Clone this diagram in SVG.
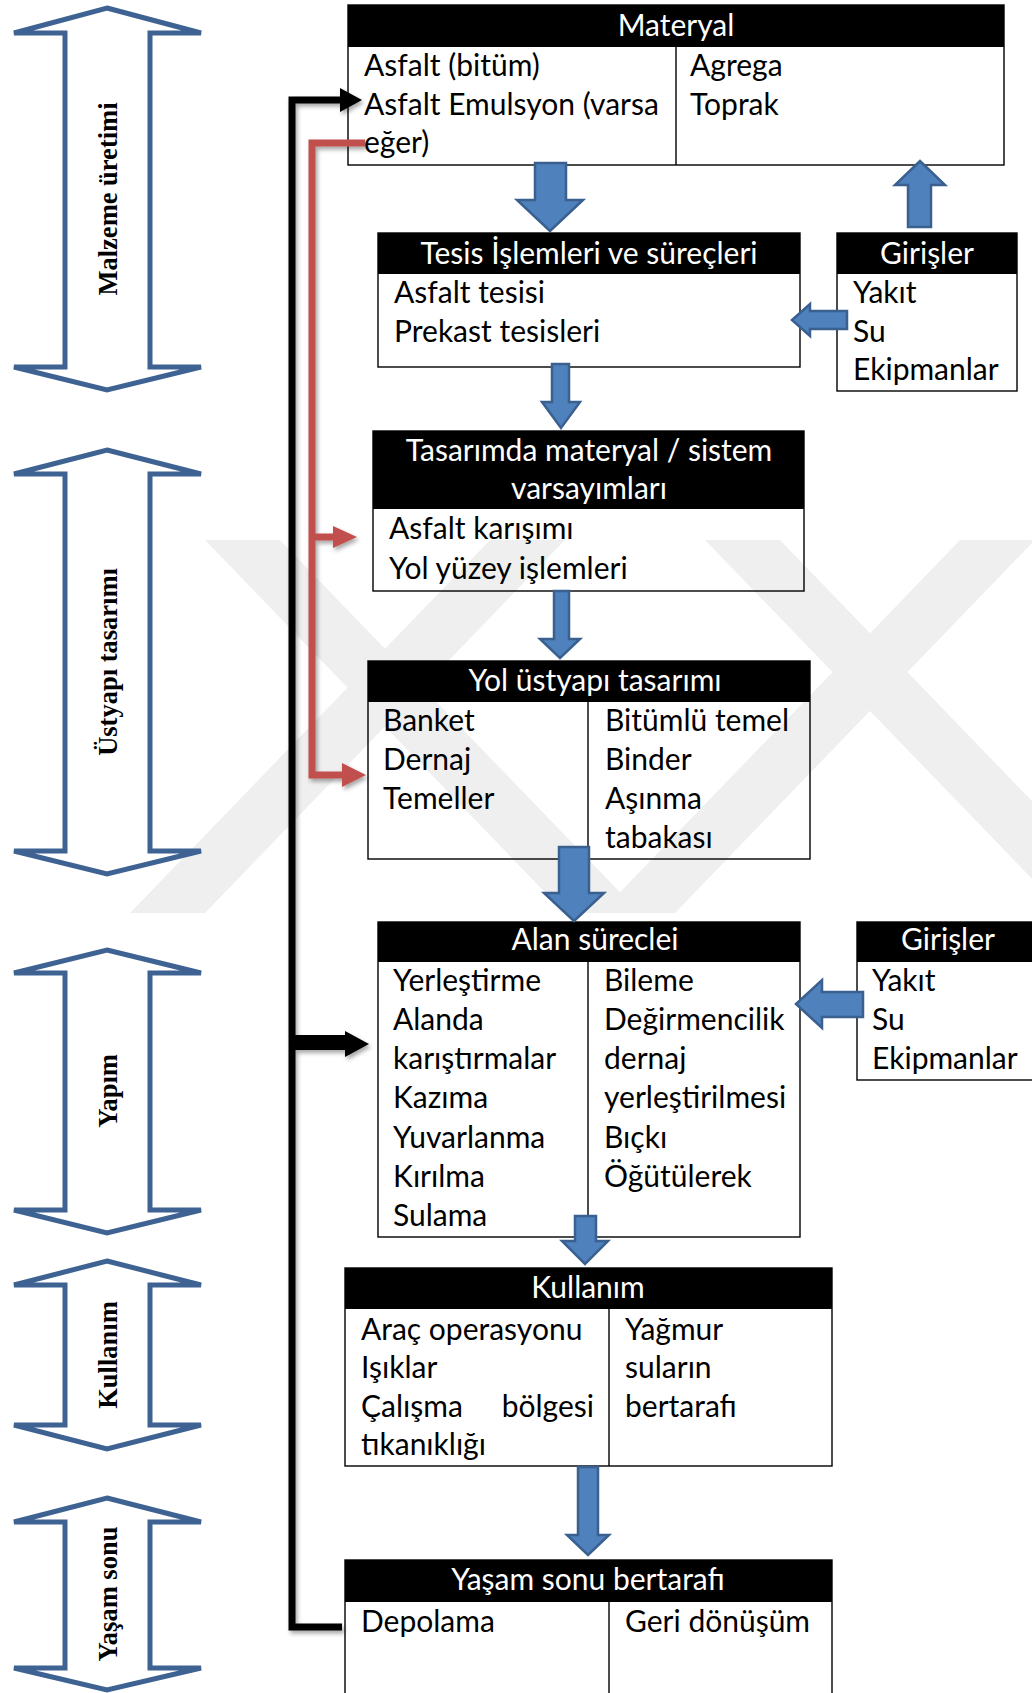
<svg xmlns="http://www.w3.org/2000/svg" width="1032" height="1693" viewBox="0 0 1032 1693">
<defs>
<style>
.box{fill:none;stroke:#000;stroke-width:1.4}
.hdr{fill:#000}
.ht{font-family:Lato,"Liberation Sans",sans-serif;font-size:30px;fill:#fff;text-anchor:middle}
.t{font-family:Lato,"Liberation Sans",sans-serif;font-size:30px;fill:#000}
.side{fill:#fff;stroke:#3e6393;stroke-width:5;stroke-linejoin:miter}
.st{font-family:"Liberation Serif","Times New Roman",serif;font-weight:bold;font-size:26.5px;fill:#000;text-anchor:middle}
.blk{fill:#4f81bd;stroke:#3a6090;stroke-width:2.5;stroke-linejoin:miter}
.wm{fill:#efefef}
</style>
<filter id="sh" x="-20%" y="-20%" width="140%" height="140%">
<feDropShadow dx="2" dy="3" stdDeviation="2" flood-color="#000" flood-opacity="0.35"/>
</filter>
</defs>
<rect width="1032" height="1693" fill="#fff"/>
<g id="watermark">
<polygon class="wm" points="205,540 280,540 640,913 565,913"/>
<polygon class="wm" points="130,913 205,913 565,540 490,540"/>
<polygon class="wm" points="705,540 780,540 1140,913 1065,913"/>
<polygon class="wm" points="600,913 675,913 1035,540 960,540"/>
</g>
<g id="phases">
<g id="phase-malzeme">
<polygon class="side" points="107,8 201,33 150,33 150,367 201,367 107,390 14,367 65,367 65,33 14,33"/>
<text class="st" transform="translate(117,199) rotate(-90)">Malzeme üretimi</text>
</g>
<g id="phase-ustyapi">
<polygon class="side" points="107,450 201,474 150,474 150,851 201,851 107,874 14,851 65,851 65,474 14,474"/>
<text class="st" transform="translate(117,662) rotate(-90)">Üstyapı tasarımı</text>
</g>
<g id="phase-yapim">
<polygon class="side" points="107,950 201,973 150,973 150,1210 201,1210 107,1233 14,1210 65,1210 65,973 14,973"/>
<text class="st" transform="translate(117,1091) rotate(-90)">Yapım</text>
</g>
<g id="phase-kullanim">
<polygon class="side" points="107,1261 201,1285 150,1285 150,1425 201,1425 107,1449 14,1425 65,1425 65,1285 14,1285"/>
<text class="st" transform="translate(117,1355) rotate(-90)">Kullanım</text>
</g>
<g id="phase-yasam">
<polygon class="side" points="107,1498 201,1522 150,1522 150,1668 201,1668 107,1690 14,1668 65,1668 65,1522 14,1522"/>
<text class="st" transform="translate(117,1594) rotate(-90)">Yaşam sonu</text>
</g>
</g>
<g id="node-materyal">
<rect class="hdr" x="348" y="5" width="656" height="42"/>
<rect class="box" x="348" y="5" width="656" height="160"/>
<line class="box" x1="676" y1="47" x2="676" y2="165"/>
<text class="ht" x="676" y="36">Materyal</text>
<text class="t" x="364" y="76">Asfalt (bitüm)</text>
<text class="t" x="364" y="115">Asfalt Emulsyon (varsa</text>
<text class="t" x="364" y="153">eğer)</text>
<text class="t" x="690" y="76">Agrega</text>
<text class="t" x="690" y="115">Toprak</text>
</g>
<g id="node-tesis">
<rect class="hdr" x="378" y="233" width="422" height="41"/>
<rect class="box" x="378" y="233" width="422" height="134"/>
<text class="ht" x="589" y="264">Tesis İşlemleri ve süreçleri</text>
<text class="t" x="394" y="303">Asfalt tesisi</text>
<text class="t" x="394" y="342">Prekast tesisleri</text>
</g>
<g id="node-girisler1">
<rect class="hdr" x="837" y="233" width="180" height="41"/>
<rect class="box" x="837" y="233" width="180" height="158"/>
<text class="ht" x="927" y="264">Girişler</text>
<text class="t" x="853" y="303">Yakıt</text>
<text class="t" x="853" y="342">Su</text>
<text class="t" x="853" y="380">Ekipmanlar</text>
</g>
<g id="node-tasarimda">
<rect class="hdr" x="373" y="431" width="431" height="78"/>
<rect class="box" x="373" y="431" width="431" height="160"/>
<text class="ht" x="589" y="461">Tasarımda materyal / sistem</text>
<text class="ht" x="589" y="499">varsayımları</text>
<text class="t" x="389" y="539">Asfalt karışımı</text>
<text class="t" x="389" y="579">Yol yüzey işlemleri</text>
</g>
<g id="node-yol">
<rect class="hdr" x="368" y="661" width="442" height="41"/>
<rect class="box" x="368" y="661" width="442" height="198"/>
<line class="box" x1="588" y1="702" x2="588" y2="859"/>
<text class="ht" x="595" y="691">Yol üstyapı tasarımı</text>
<text class="t" x="383" y="731">Banket</text>
<text class="t" x="383" y="770">Dernaj</text>
<text class="t" x="383" y="809">Temeller</text>
<text class="t" x="605" y="731">Bitümlü temel</text>
<text class="t" x="605" y="770">Binder</text>
<text class="t" x="605" y="809">Aşınma</text>
<text class="t" x="605" y="848">tabakası</text>
</g>
<g id="node-alan">
<rect class="hdr" x="378" y="922" width="422" height="40"/>
<rect class="box" x="378" y="922" width="422" height="315"/>
<line class="box" x1="588" y1="962" x2="588" y2="1237"/>
<text class="ht" x="595" y="950">Alan süreclei</text>
<text class="t" x="393" y="991">Yerleştirme</text>
<text class="t" x="393" y="1030">Alanda</text>
<text class="t" x="393" y="1069">karıştırmalar</text>
<text class="t" x="393" y="1108">Kazıma</text>
<text class="t" x="393" y="1148">Yuvarlanma</text>
<text class="t" x="393" y="1187">Kırılma</text>
<text class="t" x="393" y="1226">Sulama</text>
<text class="t" x="604" y="991">Bileme</text>
<text class="t" x="604" y="1030">Değirmencilik</text>
<text class="t" x="604" y="1069">dernaj</text>
<text class="t" x="604" y="1108">yerleştirilmesi</text>
<text class="t" x="604" y="1148">Bıçkı</text>
<text class="t" x="604" y="1187">Öğütülerek</text>
</g>
<g id="node-girisler2">
<rect class="hdr" x="857" y="922" width="185" height="40"/>
<rect class="box" x="857" y="922" width="185" height="158"/>
<text class="ht" x="948" y="950">Girişler</text>
<text class="t" x="872" y="991">Yakıt</text>
<text class="t" x="872" y="1030">Su</text>
<text class="t" x="872" y="1069">Ekipmanlar</text>
</g>
<g id="node-kullanim">
<rect class="hdr" x="345" y="1268" width="487" height="41"/>
<rect class="box" x="345" y="1268" width="487" height="198"/>
<line class="box" x1="609" y1="1309" x2="609" y2="1466"/>
<text class="ht" x="588" y="1298">Kullanım</text>
<text class="t" x="361" y="1340">Araç operasyonu</text>
<text class="t" x="361" y="1378">Işıklar</text>
<text class="t" y="1417"><tspan x="361">Çalışma</tspan><tspan x="594" text-anchor="end">bölgesi</tspan></text>
<text class="t" x="361" y="1455">tıkanıklığı</text>
<text class="t" x="625" y="1340">Yağmur</text>
<text class="t" x="625" y="1378">suların</text>
<text class="t" x="625" y="1417">bertarafı</text>
</g>
<g id="node-yasam">
<rect class="hdr" x="345" y="1560" width="487" height="42"/>
<rect class="box" x="345" y="1560" width="487" height="140"/>
<line class="box" x1="609" y1="1602" x2="609" y2="1700"/>
<text class="ht" x="588" y="1590">Yaşam sonu bertarafı</text>
<text class="t" x="361" y="1632">Depolama</text>
<text class="t" x="625" y="1632">Geri dönüşüm</text>
</g>
<g id="connectors">
<g filter="url(#sh)">
<path d="M342,1627 H292 V100 H341" fill="none" stroke="#000" stroke-width="7"/>
<polygon points="340,88 362,100 340,112" fill="#000"/>
<rect x="292" y="1035" width="54" height="15" fill="#000"/>
<polygon points="345,1031 369,1044 345,1057" fill="#000"/>
</g>
<g filter="url(#sh)">
<path d="M365,143 H312 V775 H343 M312,537 H335" fill="none" stroke="#c0504d" stroke-width="7"/>
<polygon points="333,526 357,537 333,548" fill="#c0504d"/>
<polygon points="342,763 366,775 342,787" fill="#c0504d"/>
</g>
<polygon class="blk" points="535,163 566,163 566,200 583,200 550,231 517,200 535,200"/>
<polygon class="blk" points="908,227 931,227 931,185 945,185 920,161 895,185 908,185"/>
<polygon class="blk" points="847,311 847,329 810,329 810,336 792,320 810,304 810,311"/>
<polygon class="blk" points="552,364 569,364 569,402 580,402 561,428 542,402 552,402"/>
<polygon class="blk" points="554,591 569,591 569,639 580,639 560,658 540,639 554,639"/>
<polygon class="blk" points="559,847 589,847 589,893 604,893 574,921 544,893 559,893"/>
<polygon class="blk" points="863,992 863,1017 822,1017 822,1028 796,1004 822,980 822,992"/>
<polygon class="blk" points="575,1216 596,1216 596,1241 608,1241 585,1264 562,1241 575,1241"/>
<polygon class="blk" points="578,1467 598,1467 598,1535 609,1535 588,1555 567,1535 578,1535"/>
</g>
</svg>
